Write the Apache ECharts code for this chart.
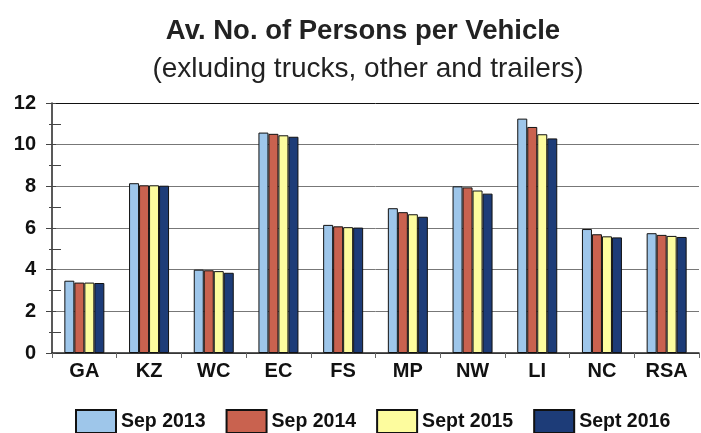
<!DOCTYPE html>
<html>
<head>
<meta charset="utf-8">
<script src="https://cdn.jsdelivr.net/npm/echarts@6/dist/echarts.min.js"></script>
<style>
  html, body { margin: 0; padding: 0; background: #fff; }
  #chart { width: 701px; height: 433px; }
</style>
</head>
<body>
<div id="chart"></div>
<script>
// Provinces
var regions = ['GA', 'KZ', 'WC', 'EC', 'FS', 'MP', 'NW', 'LI', 'NC', 'RSA'];
// Persons per vehicle
var sep2013 = [3.47, 8.15, 4.0, 10.58, 6.15, 6.95, 8.0, 11.25, 5.95, 5.75];
var sep2014 = [3.38, 8.05, 3.97, 10.52, 6.08, 6.76, 7.95, 10.85, 5.7, 5.67];
var sept2015 = [3.38, 8.05, 3.93, 10.45, 6.04, 6.66, 7.8, 10.5, 5.6, 5.62];
var sept2016 = [3.36, 8.03, 3.85, 10.38, 6.02, 6.54, 7.65, 10.3, 5.55, 5.57];
var yTicks = [0, 2, 4, 6, 8, 10, 12];

var font = 'Liberation Sans, Arial, sans-serif';

function barSeries(name, data, color) {
    return {
        name: name,
        type: 'bar',
        data: data,
        barWidth: 10,
        barGap: '0%',
        itemStyle: {
            color: color,
            borderColor: '#111',
            borderWidth: 1
        }
    };
}

var myChart = echarts.init(document.getElementById('chart'));
myChart.setOption({
    animation: false,
    backgroundColor: '#fff',
    title: [{
        text: 'Av. No. of Persons per Vehicle',
        left: 358,
        textAlign: 'center',
        top: 12,
        textStyle: { fontFamily: font, fontSize: 27.5, fontWeight: 'bold', color: '#222' }
    }, {
        text: '(exluding trucks, other and trailers)',
        left: 363,
        textAlign: 'center',
        top: 50,
        textStyle: { fontFamily: font, fontSize: 28, fontWeight: 'normal', color: '#222' }
    }],
    legend: {
        top: 404,
        left: 70,
        icon: 'rect',
        itemWidth: 40,
        itemHeight: 23,
        itemGap: 20,
        textStyle: { fontFamily: font, fontSize: 19.5, fontWeight: 'bold', color: '#111' },
        data: ['Sep 2013', 'Sep 2014', 'Sept 2015', 'Sept 2016']
    },
    grid: { left: 52, right: 2, top: 103, bottom: 80 },
    xAxis: {
        type: 'category',
        data: regions,
        axisLine: { lineStyle: { color: '#222', width: 1.5 } },
        axisTick: { show: true, length: 5, lineStyle: { color: '#666' } },
        axisLabel: { fontFamily: font, fontSize: 20, fontWeight: 'bold', color: '#111', margin: 8 }
    },
    yAxis: [{
        type: 'value',
        min: yTicks[0],
        max: yTicks[yTicks.length - 1],
        interval: 2,
        axisLine: { show: true, lineStyle: { color: '#222', width: 1.5 } },
        axisTick: { show: true, length: 6, lineStyle: { color: '#444' } },
        minorTick: { show: true, splitNumber: 2, length: 3, lineStyle: { color: '#444' } },
        axisLabel: { fontFamily: font, fontSize: 20, fontWeight: 'bold', color: '#111', margin: 16 },
        splitLine: {
            show: true,
            lineStyle: { color: ['#777', '#777', '#777', '#777', '#777', '#777', '#111'], width: 1 }
        }
    }, {
        // inner half of the crossing ticks
        type: 'value',
        position: 'left',
        min: yTicks[0],
        max: yTicks[yTicks.length - 1],
        interval: 2,
        axisLine: { show: false },
        axisTick: { show: true, inside: true, length: 4, lineStyle: { color: '#444' } },
        minorTick: { show: true, splitNumber: 2, length: 9, lineStyle: { color: '#444' } },
        axisLabel: { show: false },
        splitLine: { show: false }
    }],
    series: [
        barSeries('Sep 2013', sep2013, '#9ec6ea'),
        barSeries('Sep 2014', sep2014, '#c9624f'),
        barSeries('Sept 2015', sept2015, '#fdfc9e'),
        barSeries('Sept 2016', sept2016, '#1d3c78')
    ]
});
</script>
</body>
</html>
